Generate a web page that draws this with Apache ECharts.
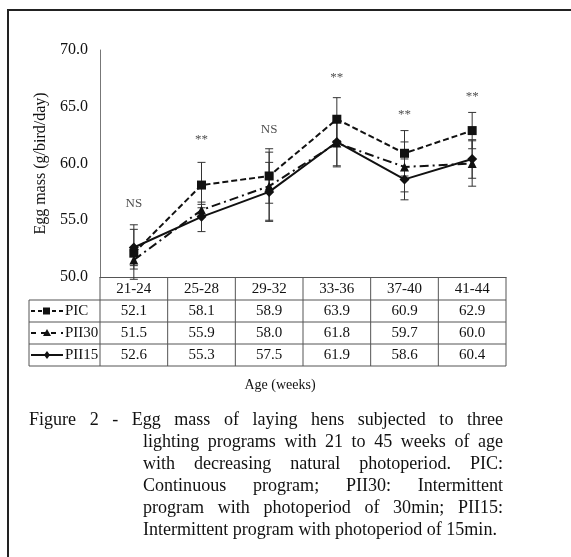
<!DOCTYPE html>
<html>
<head>
<meta charset="utf-8">
<script src="https://cdn.jsdelivr.net/npm/echarts@6/dist/echarts.min.js"></script>
<style>
  html, body { margin: 0; padding: 0; background: #fff; }
  #main { width: 571px; height: 557px; }
</style>
</head>
<body>
<div id="main"></div>
<script>
// data
var ages = ['21-24', '25-28', '29-32', '33-36', '37-40', '41-44'];
var seriesNames = ['PIC', 'PII30', 'PII15'];
var pic = [52.1, 58.1, 58.9, 63.9, 60.9, 62.9];
var pii30 = [51.5, 55.9, 58.0, 61.8, 59.7, 60.0];
var pii15 = [52.6, 55.3, 57.5, 61.9, 58.6, 60.4];
// error bar half widths (estimated)
var picErr = [2.5, 2.0, 2.4, 1.9, 2.0, 1.6];
var pii30Err = [0.8, 0.5, 3.0, 2.0, 2.2, 2.0];
var pii15Err = [1.6, 1.3, 2.6, 2.2, 1.8, 1.7];
// significance marks above each age group
var sigMarks = ['NS', '**', 'NS', '**', '**', '**'];
var sigLevel = [56.5, 62.1, 63.0, 67.6, 64.3, 65.9];
var captionLines = [
    'Figure 2 - Egg mass of laying hens subjected to three',
    'lighting programs with 21 to 45 weeks of age',
    'with decreasing natural photoperiod. PIC:',
    'Continuous program; PII30: Intermittent',
    'program with photoperiod of 30min; PII15:',
    'Intermittent program with photoperiod of 15min.'
];

var FONT = '"Liberation Serif", "Times New Roman", serif';
var INK = '#111';

var chartDom = document.getElementById('main');
var myChart = echarts.init(chartDom);

function errData(vals, errs) {
    return vals.map(function (v, i) {
        return [i, Math.max(49.8, v - errs[i]), v + errs[i]];
    });
}

function errRender(params, api) {
    var i = api.value(0);
    var lo = api.coord([i, api.value(1)]);
    var hi = api.coord([i, api.value(2)]);
    var w = 4;
    var st = { stroke: '#333', lineWidth: 1 };
    return {
        type: 'group',
        children: [
            { type: 'line', shape: { x1: lo[0], y1: lo[1], x2: hi[0], y2: hi[1] }, style: st },
            { type: 'line', shape: { x1: lo[0] - w, y1: lo[1], x2: lo[0] + w, y2: lo[1] }, style: st },
            { type: 'line', shape: { x1: hi[0] - w, y1: hi[1], x2: hi[0] + w, y2: hi[1] }, style: st }
        ]
    };
}

var lineStyles = [
    { type: [6, 3], symbol: 'rect', size: 9 },
    { type: [9, 4, 2, 4], symbol: 'triangle', size: 9 },
    { type: 'solid', symbol: 'diamond', size: 10 }
];
var allVals = [pic, pii30, pii15];
var allErrs = [picErr, pii30Err, pii15Err];

var series = [];
seriesNames.forEach(function (name, k) {
    series.push({
        name: name + ' err',
        type: 'custom',
        renderItem: errRender,
        data: errData(allVals[k], allErrs[k]),
        clip: false,
        z: 1
    });
});
seriesNames.forEach(function (name, k) {
    series.push({
        name: name,
        type: 'line',
        data: allVals[k],
        symbol: lineStyles[k].symbol,
        symbolSize: lineStyles[k].size,
        itemStyle: { color: INK },
        lineStyle: { color: INK, width: 2, type: lineStyles[k].type },
        z: 3
    });
});
series.push({
    type: 'scatter',
    data: sigLevel.map(function (v, i) { return [i, v]; }),
    symbolSize: 0,
    label: {
        show: true,
        position: 'inside',
        formatter: function (p) { return sigMarks[p.dataIndex]; },
        fontFamily: FONT,
        fontSize: 13,
        color: '#222'
    },
    z: 4
});

var option = {
    animation: false,
    grid: { left: 100, top: 50, width: 406, height: 227 },
    xAxis: {
        type: 'category',
        data: ages,
        boundaryGap: true,
        axisLine: { show: true, lineStyle: { color: '#555', width: 1 } },
        axisTick: { show: false },
        axisLabel: { margin: 5, fontFamily: FONT, fontSize: 15, color: INK }
    },
    yAxis: {
        type: 'value',
        min: 50,
        max: 70,
        interval: 5,
        name: 'Egg mass (g/bird/day)',
        nameLocation: 'middle',
        nameGap: 48,
        nameTextStyle: { fontFamily: FONT, fontSize: 16, color: INK },
        axisLine: { show: true, lineStyle: { color: '#777', width: 1 } },
        axisTick: { show: false },
        splitLine: { show: false },
        axisLabel: {
            margin: 12,
            fontFamily: FONT,
            fontSize: 16,
            color: INK,
            formatter: function (v) { return v.toFixed(1); }
        }
    },
    series: series
};

option && myChart.setOption(option);

// table, legend keys, axis title, caption and frame
var g = [];
var lineCol = '#555';
var half = (myChart.convertToPixel({ xAxisIndex: 0 }, ages[1]) - myChart.convertToPixel({ xAxisIndex: 0 }, ages[0])) / 2;
var centers = ages.map(function (a) { return myChart.convertToPixel({ xAxisIndex: 0 }, a); });
var yAxisBase = myChart.convertToPixel({ yAxisIndex: 0 }, 50);
var rows = [yAxisBase, yAxisBase + 23, yAxisBase + 45, yAxisBase + 67, yAxisBase + 89];
var tableLeft = 29;
var tableRight = centers[centers.length - 1] + half;

function hline(x1, x2, y) {
    g.push({ type: 'line', shape: { x1: x1, y1: y, x2: x2, y2: y }, style: { stroke: lineCol, lineWidth: 1 }, silent: true });
}
function vline(x, y1, y2) {
    g.push({ type: 'line', shape: { x1: x, y1: y1, x2: x, y2: y2 }, style: { stroke: lineCol, lineWidth: 1 }, silent: true });
}

for (var r = 1; r < rows.length; r++) hline(tableLeft, tableRight, rows[r]);
vline(tableLeft, rows[1], rows[4]);
vline(centers[0] - half, rows[0], rows[4]);
centers.forEach(function (c) { vline(c + half, rows[0], rows[4]); });

allVals.forEach(function (vals, k) {
    var cy = (rows[k + 1] + rows[k + 2]) / 2;
    vals.forEach(function (v, i) {
        g.push({
            type: 'text', x: centers[i], y: cy, silent: true,
            style: { text: v.toFixed(1), align: 'center', verticalAlign: 'middle', font: '15px ' + FONT, fill: INK }
        });
    });
    // legend key
    g.push({
        type: 'line', shape: { x1: 31, y1: cy, x2: 63, y2: cy }, silent: true,
        style: { stroke: INK, lineWidth: 2, lineDash: k === 2 ? null : (k === 0 ? [4, 3] : [5, 5]) }
    });
    var sym = lineStyles[k].symbol;
    var shapeEl;
    if (sym === 'rect') {
        shapeEl = { type: 'rect', shape: { x: 43, y: cy - 3.5, width: 7, height: 7 } };
    } else if (sym === 'triangle') {
        shapeEl = { type: 'polygon', shape: { points: [[47, cy - 4], [43, cy + 3], [51, cy + 3]] } };
    } else {
        shapeEl = { type: 'polygon', shape: { points: [[47, cy - 4], [50, cy], [47, cy + 4], [44, cy]] } };
    }
    shapeEl.style = { fill: INK };
    shapeEl.silent = true;
    g.push(shapeEl);
    g.push({
        type: 'text', x: 65, y: cy, silent: true,
        style: { text: seriesNames[k], align: 'left', verticalAlign: 'middle', font: '15px ' + FONT, fill: INK }
    });
});

g.push({
    type: 'text', x: 280, y: 385, silent: true,
    style: { text: 'Age (weeks)', align: 'center', verticalAlign: 'middle', font: '14px ' + FONT, fill: INK }
});

// caption, justified like the printed figure
var capFont = '19px ' + FONT;
var capScale = 0.95;
var ctx = document.createElement('canvas').getContext('2d');
ctx.font = capFont;
var capRight = 503;
captionLines.forEach(function (line, li) {
    var x0 = li === 0 ? 29 : 143;
    var cy = 420 + li * 22;
    var words = line.split(' ');
    var widths = words.map(function (w) { return ctx.measureText(w).width * capScale; });
    var total = widths.reduce(function (a, b) { return a + b; }, 0);
    var space = ctx.measureText(' ').width * capScale;
    var last = li === captionLines.length - 1;
    var natural = total + space * (words.length - 1);
    var sx = capScale;
    if (!last) {
        space = (capRight - x0 - total) / (words.length - 1);
        if (space < 2) { space = 2; }
    } else if (natural > capRight - x0) {
        var f = (capRight - x0) / natural;
        sx *= f;
        widths = widths.map(function (w) { return w * f; });
        space *= f;
    }
    var x = x0;
    words.forEach(function (w, wi) {
        g.push({
            type: 'text', x: x, y: cy, scaleX: sx, silent: true,
            style: { text: w, align: 'left', verticalAlign: 'middle', font: capFont, fill: INK }
        });
        x += widths[wi] + space;
    });
});

g.push({
    type: 'rect', shape: { x: 8, y: 10, width: 620, height: 620 }, silent: true,
    style: { fill: 'none', stroke: '#222', lineWidth: 2 }
});

myChart.setOption({ graphic: g });
</script>
</body>
</html>
